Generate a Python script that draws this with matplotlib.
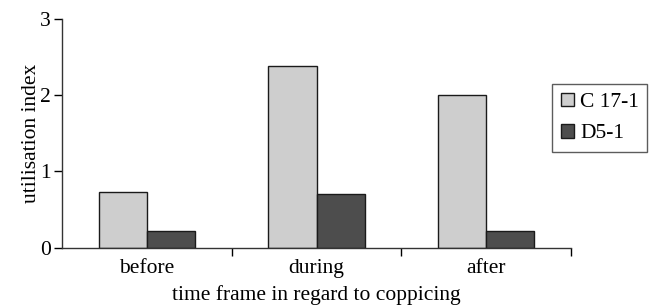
import matplotlib
matplotlib.use("Agg")
import matplotlib.pyplot as plt
import numpy as np

categories = ["before", "during", "after"]
series_names = ["C 17-1", "D5-1"]
c17_values = [0.73, 2.39, 2.00]
d5_values = [0.22, 0.70, 0.22]
y_ticks = [0, 1, 2, 3]

plt.rcParams['font.family'] = ['Liberation Serif', 'DejaVu Serif']
fs = 15.5

fig = plt.figure(figsize=(6.49, 3.05), dpi=100)
ax = fig.add_axes([62/649, 1-247.7/305, (571-62)/649, (247.7-19)/305])

x = np.arange(len(categories))
w = 0.284
ax.bar(x - w/2, c17_values, w, color="#cecece", edgecolor="#1a1a1a", linewidth=1.0, label=series_names[0])
ax.bar(x + w/2, d5_values, w, color="#4d4d4d", edgecolor="#1a1a1a", linewidth=1.0, label=series_names[1])

ax.set_xlim(-0.5, 2.5)
ax.set_ylim(0, 3)
ax.set_yticks(y_ticks)
ax.set_xticks(x)
ax.set_xticklabels(categories, fontsize=fs)
ax.set_xticks([0.5, 1.5, 2.5], minor=True)
ax.tick_params(axis='x', which='major', length=0, pad=8)
ax.tick_params(axis='x', which='minor', length=6, width=1, direction='out')
ax.tick_params(axis='y', length=6, width=1, direction='out', labelsize=fs, pad=2)
for s in ["top", "right"]:
    ax.spines[s].set_visible(False)
for s in ["left", "bottom"]:
    ax.spines[s].set_linewidth(1.0)
    ax.spines[s].set_color("#333333")

ax.set_ylabel("utilisation index", fontsize=fs, labelpad=-1)
ax.set_xlabel("time frame in regard to coppicing", fontsize=fs, labelpad=5)

leg = ax.legend(loc="upper left", bbox_to_anchor=(552/649, 1-84/305), bbox_transform=fig.transFigure,
                fontsize=fs, frameon=True, fancybox=False, edgecolor="#333333",
                handlelength=0.6, handleheight=0.6, handletextpad=0.3, borderpad=0.4,
                labelspacing=0.55, borderaxespad=0)
leg.get_frame().set_linewidth(1.0)

fig.savefig("out.png", dpi=100)
